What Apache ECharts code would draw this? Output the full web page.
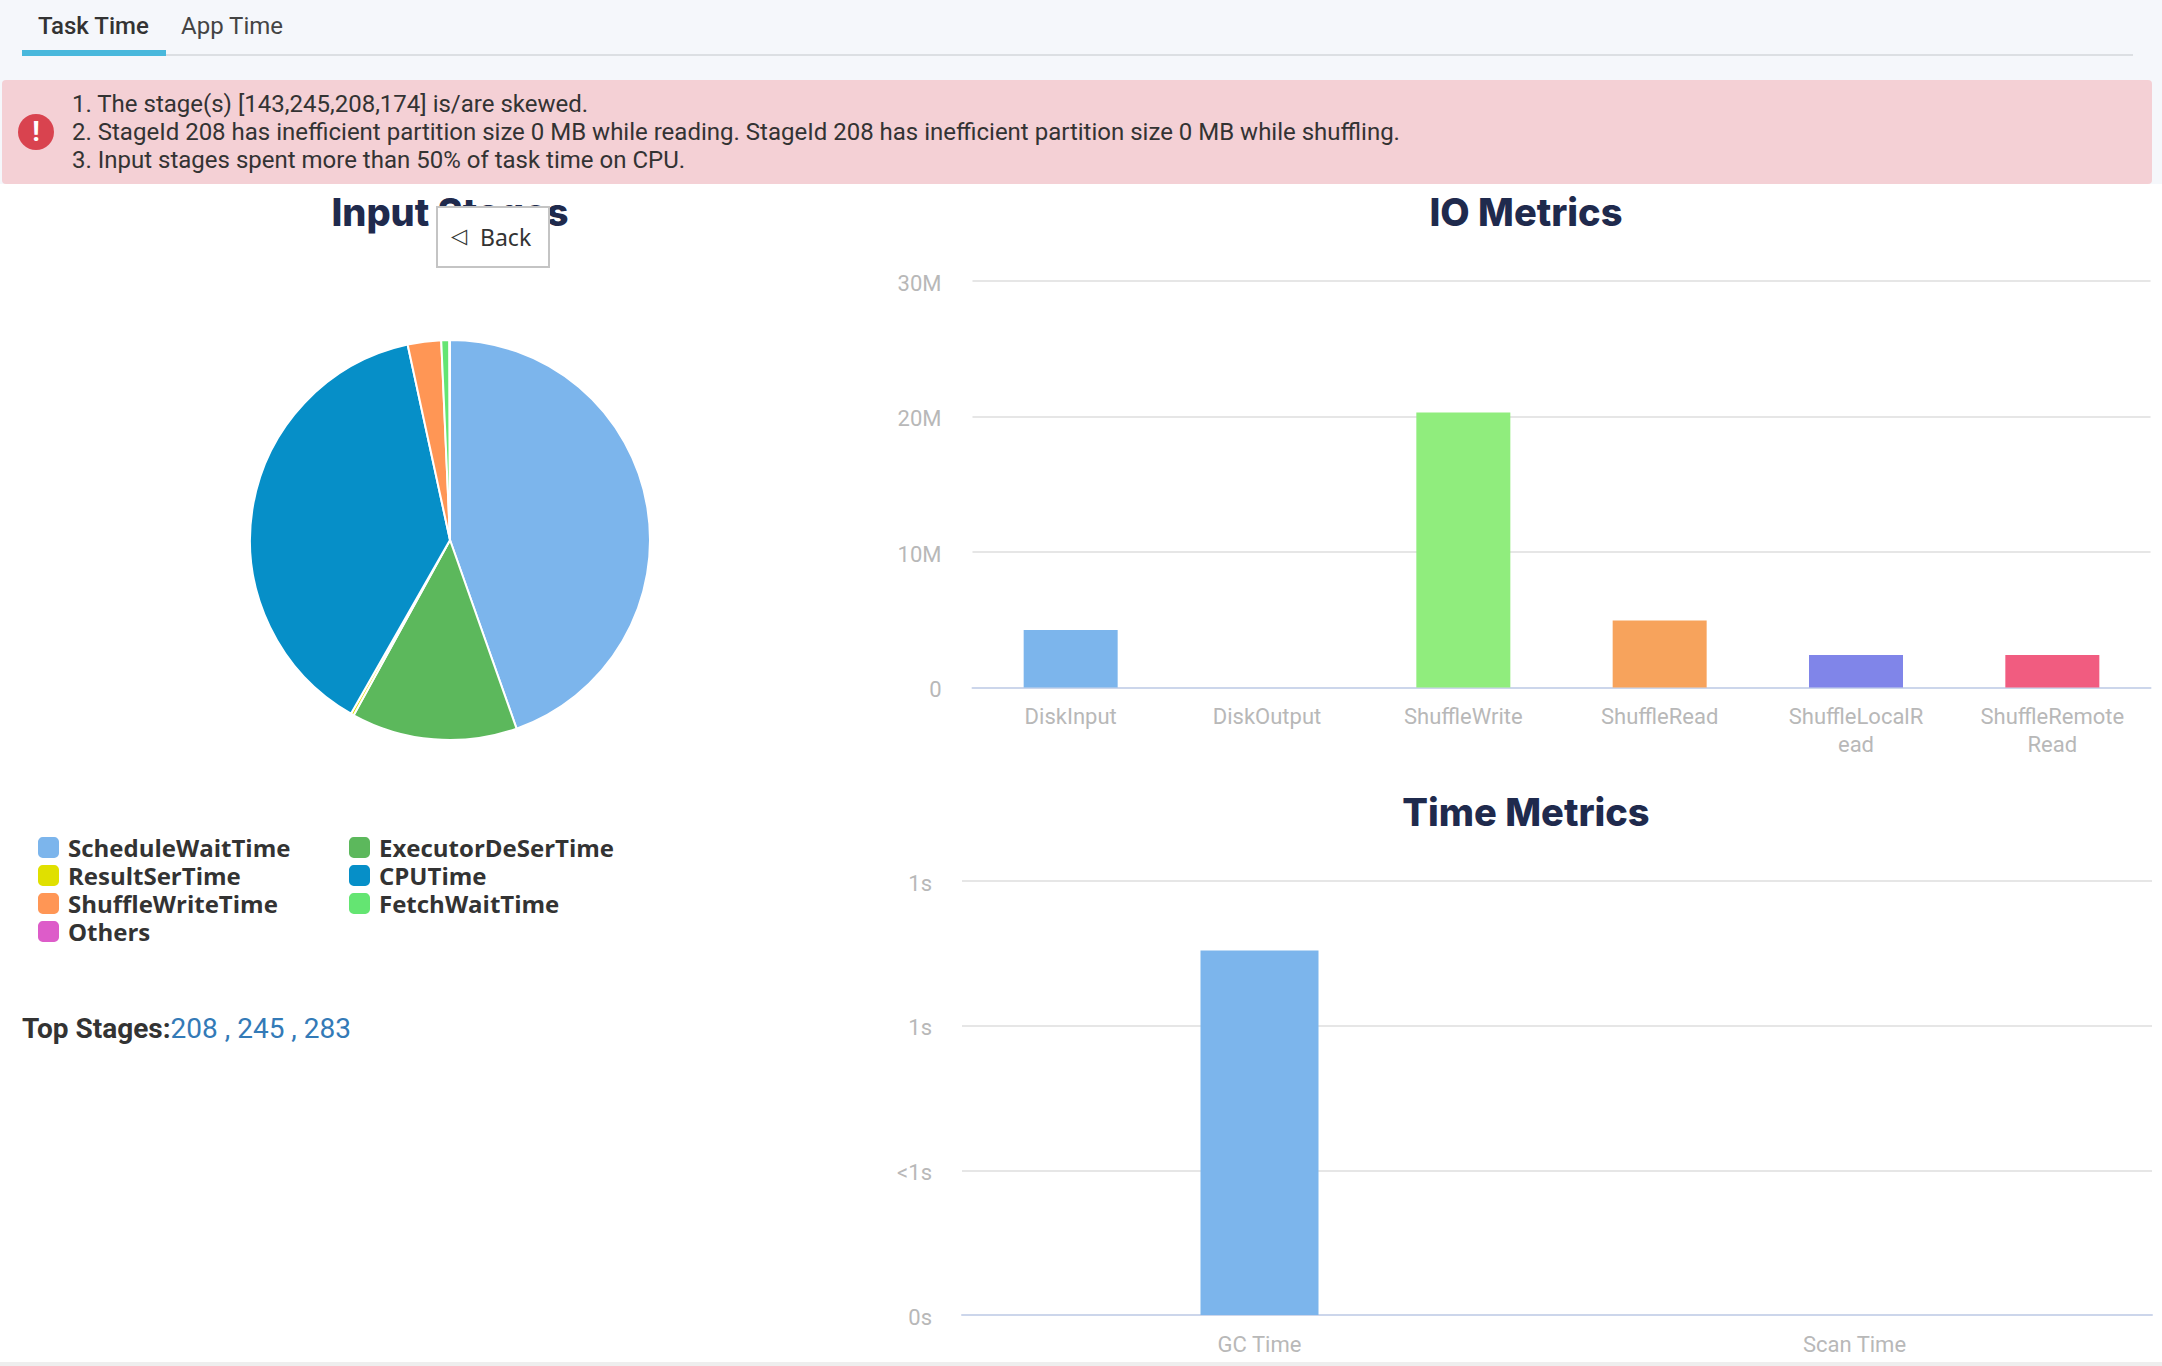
<!DOCTYPE html>
<html>
<head>
<meta charset="utf-8">
<title>Task Time</title>
<script src="https://cdn.jsdelivr.net/npm/echarts@6/dist/echarts.min.js"></script>
<style>
    html, body { margin: 0; padding: 0; width: 2162px; height: 1366px; overflow: hidden; background: #fff; font-family: Roboto, sans-serif; }
    .head { position: absolute; left: 0; top: 0; width: 2162px; height: 184px; background: #f5f7fb; }
    .tab { position: absolute; top: 10px; font-size: 24px; line-height: 32px; color: #444; }
    .tab.on { left: 38px; font-weight: 500; color: #333; }
    .tab.off { left: 181px; }
    .tabLine { position: absolute; left: 22px; top: 54px; width: 2111px; height: 2px; background: #dcdfe3; }
    .tabBar { position: absolute; left: 22px; top: 50px; width: 144px; height: 6px; background: #49b8dc; }
    .alert { position: absolute; left: 2px; top: 80px; width: 2150px; height: 104px; background: #f4d0d5; border-radius: 4px; }
    .alert ol { position: absolute; left: 70px; top: 10px; margin: 0; padding: 0; list-style: none; font-size: 24px; line-height: 28px; color: #333; white-space: nowrap; }
    .alertIcon { position: absolute; left: 16px; top: 34px; width: 36px; height: 36px; border-radius: 50%; background: #d9434f; color: #fff; font: bold 28px/36px Roboto; text-align: center; }
    #main { position: absolute; left: 0; top: 0; width: 2162px; height: 1366px; }
    .top { position: absolute; left: 22px; top: 1011px; font-size: 28px; line-height: 36px; color: #333; font-weight: 700; }
    .top a { color: #337ab7; font-weight: 400; text-decoration: none; }
    .foot { position: absolute; left: 0; top: 1362px; width: 2162px; height: 4px; background: #eeeeee; }
</style>
</head>
<body>
<div class="head">
    <div class="tabLine"></div>
    <div class="tabBar"></div>
    <div class="tab on">Task Time</div>
    <div class="tab off">App Time</div>
    <div class="alert">
        <div class="alertIcon">!</div>
        <ol>
            <li>1. The stage(s) [143,245,208,174] is/are skewed.</li>
            <li>2. StageId 208 has inefficient partition size 0 MB while reading. StageId 208 has inefficient partition size 0 MB while shuffling.</li>
            <li>3. Input stages spent more than 50% of task time on CPU.</li>
        </ol>
    </div>
</div>
<div class="foot"></div>
<div id="main"></div>
<div class="top">Top Stages:<a href="#">208 , 245 , 283</a></div>

<script>
// pie, share of task time in percent
var pieNames = ["ScheduleWaitTime", "ExecutorDeSerTime", "ResultSerTime", "CPUTime", "ShuffleWriteTime", "FetchWaitTime", "Others"];
var pieValues = [44.6, 13.4, 0.25, 38.35, 2.7, 0.65, 0.05];
var pieColors = ["#7cb5ec", "#5cb85c", "#e0e000", "#068fc8", "#ff9655", "#64e572", "#dd5cc9"];
var legendLeft = ["ScheduleWaitTime", "ResultSerTime", "ShuffleWriteTime", "Others"];
var legendRight = ["ExecutorDeSerTime", "CPUTime", "FetchWaitTime"];

// IO metrics, bytes
var ioNames = ["DiskInput", "DiskOutput", "ShuffleWrite", "ShuffleRead", "ShuffleLocalRead", "ShuffleRemoteRead"];
var ioValues = [4240000, 0, 20300000, 4950000, 2400000, 2400000];
var ioColors = ["#7cb5ec", "#434348", "#90ed7d", "#f7a35c", "#8085e9", "#f15c80"];
var ioTicks = ["0", "10M", "20M", "30M"];

// Time metrics, seconds
var timeNames = ["GC Time", "Scan Time"];
var timeValues = [1.26, 0];
var timeTicks = ["0s", "<1s", "1s", "1s"];

var titleColor = "#1f2a4d";
var labelColor = "#b8b8b8";

function makeTitle(text, x, y) {
    return {
        text: text,
        left: x,
        top: y,
        textAlign: "center",
        textStyle: { fontFamily: "Inter", fontSize: 38, fontWeight: 800, color: titleColor }
    };
}

function makeLegend(names, x) {
    return {
        data: names,
        orient: "vertical",
        left: x,
        top: 835,
        padding: 0,
        itemWidth: 23,
        itemHeight: 23,
        itemGap: 3,
        icon: "roundRect",
        textStyle: { fontFamily: "Open Sans", fontSize: 24, fontWeight: 700, color: "#333", padding: [0, 0, 0, 3] }
    };
}

function makeCategoryAxis(names, gridIndex) {
    return {
        type: "category",
        gridIndex: gridIndex,
        data: names,
        axisTick: { show: false },
        axisLine: { lineStyle: { color: "#ccd6eb", width: 2 } },
        axisLabel: {
            interval: 0,
            color: labelColor,
            fontFamily: "Roboto",
            fontSize: 22,
            lineHeight: 28,
            margin: 15,
            width: 146,
            overflow: "breakAll"
        }
    };
}

function makeValueAxis(ticks, max, gridIndex, margin) {
    return {
        type: "value",
        gridIndex: gridIndex,
        min: 0,
        max: max,
        interval: max / (ticks.length - 1),
        axisLabel: {
            color: labelColor,
            fontFamily: "Roboto",
            fontSize: 22,
            margin: margin,
            // labels sit a little under their grid line
            verticalAlign: "top",
            padding: [-9, 0, 0, 0],
            formatter: function (value, index) { return ticks[index]; }
        },
        splitLine: { lineStyle: { color: "#e6e6e6", width: 2 } }
    };
}

function initChart() {
    var chart = echarts.init(document.getElementById("main"), null, { renderer: "svg" });
    var option = {
        animation: false,
        tooltip: { show: false },
        title: [
            makeTitle("Input Stages", 445, 188),
            makeTitle("IO Metrics", 1521, 188),
            makeTitle("Time Metrics", 1521, 788)
        ],
        legend: [makeLegend(legendLeft, 36), makeLegend(legendRight, 347)],
        grid: [
            { left: 972.5, top: 281, width: 1178, height: 406.5 },
            { left: 962, top: 881, width: 1190, height: 434 }
        ],
        xAxis: [makeCategoryAxis(ioNames, 0), makeCategoryAxis(timeNames, 1)],
        yAxis: [makeValueAxis(ioTicks, 30000000, 0, 31), makeValueAxis(timeTicks, 1.5, 1, 30)],
        series: [
            {
                type: "pie",
                center: [450, 540],
                radius: 200,
                startAngle: 90,
                label: { show: false },
                labelLine: { show: false },
                itemStyle: { borderColor: "#fff", borderWidth: 2 },
                data: pieNames.map(function (name, i) {
                    return { name: name, value: pieValues[i], itemStyle: { color: pieColors[i] } };
                })
            },
            {
                type: "bar",
                xAxisIndex: 0,
                yAxisIndex: 0,
                barWidth: 94,
                data: ioValues.map(function (v, i) {
                    return { value: v, itemStyle: { color: ioColors[i] } };
                })
            },
            {
                type: "bar",
                xAxisIndex: 1,
                yAxisIndex: 1,
                barWidth: 118,
                itemStyle: { color: "#7cb5ec" },
                data: timeValues
            }
        ],
        graphic: [
            {
                type: "rect",
                z: 100,
                shape: { x: 437, y: 207, width: 112, height: 60 },
                style: { fill: "#fff", stroke: "#c4c4c4", lineWidth: 2 }
            },
            {
                type: "text",
                z: 101,
                x: 451,
                y: 236,
                style: { text: "◁", fontFamily: "DejaVu Sans", fontSize: 21, fill: "#333", verticalAlign: "middle" }
            },
            {
                type: "text",
                z: 101,
                x: 480,
                y: 237,
                style: { text: "Back", fontFamily: "Noto Sans", fontSize: 23, fill: "#333", verticalAlign: "middle" }
            }
        ]
    };
    chart.setOption(option);
}

initChart();
</script>
</body>
</html>
